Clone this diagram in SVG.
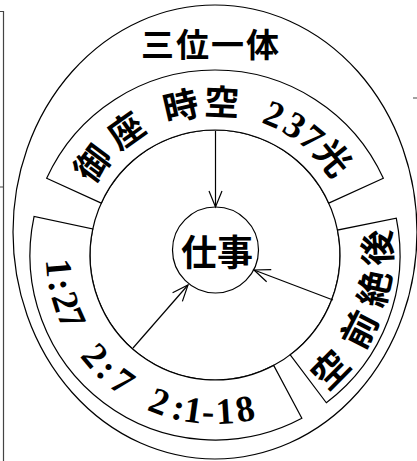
<svg xmlns="http://www.w3.org/2000/svg" width="417" height="461" viewBox="0 0 417 461">
<style>
.ln{fill:none;stroke:#000;stroke-width:1.2}
.sec{fill:#fff;stroke:#000;stroke-width:1.2}
.cjk{font-family:"Noto Sans CJK JP","Noto Sans CJK SC",sans-serif;font-weight:700;fill:#000}
.num{font-family:"Liberation Serif",serif;font-weight:700;fill:#000}
.edge{stroke:#444;stroke-width:1.2;fill:none}
</style>
<defs>
<marker id="ah" viewBox="-18 -9 20 18" refX="0" refY="0" markerWidth="20" markerHeight="18" markerUnits="userSpaceOnUse" orient="auto">
<path d="M-16,-6.5 L0,0 L-16,6.5" fill="none" stroke="#000" stroke-width="1.2"/>
</marker>
</defs>
<rect width="417" height="461" fill="#fff"/>
<g id="frame">
<path class="edge" d="M3.5,11 V461 M0,11.5 H3.5 M0,187 H3.5 M413,98 H417"/>
</g>
<g id="trinity">
<ellipse class="ln" cx="215" cy="232" rx="202" ry="227"/>
<text class="cjk" x="141" y="57" font-size="33" letter-spacing="2">三位一体</text>
</g>
<g id="inner-ring">
<circle class="ln" cx="215" cy="255" r="125"/>
</g>
<g id="sector-top">
<path class="sec" d="M46.65,178.28 A185,185 0 0 1 383.35,178.28 L328.75,203.16 A125,125 0 0 0 101.25,203.16 Z"/>
<g font-size="35">
<text class="cjk" x="215" y="115" text-anchor="middle" transform="rotate(-53.1 215 255)">御</text>
<text class="cjk" x="215" y="115" text-anchor="middle" transform="rotate(-35.6 215 255)">座</text>
<text class="cjk" x="215" y="115" text-anchor="middle" transform="rotate(-13 215 255)">時</text>
<text class="cjk" x="215" y="115" text-anchor="middle" transform="rotate(2.6 215 255)">空</text>
<text class="num" x="215" y="115" text-anchor="middle" font-size="37" transform="rotate(22.8 215 255)">2</text>
<text class="num" x="215" y="115" text-anchor="middle" font-size="37" transform="rotate(31.6 215 255)">3</text>
<text class="num" x="215" y="115" text-anchor="middle" font-size="37" transform="rotate(39.6 215 255)">7</text>
<text class="cjk" x="215" y="115" text-anchor="middle" transform="rotate(50.6 215 255)">光</text>
</g>
</g>
<g id="sector-left">
<path class="sec" d="M34.04,216.53 A185,185 0 0 0 301.86,418.34 L273.69,365.36 A125,125 0 0 1 92.74,229.01 Z"/>
<g font-size="37">
<text class="num" x="215" y="424" text-anchor="middle" transform="rotate(85.3 215 255)">1</text>
<text class="num" x="215" y="424" text-anchor="middle" transform="rotate(79 215 255)">:</text>
<text class="num" x="215" y="424" text-anchor="middle" transform="rotate(72.7 215 255)">2</text>
<text class="num" x="215" y="424" text-anchor="middle" transform="rotate(66.2 215 255)">7</text>
<text class="num" x="215" y="424" text-anchor="middle" transform="rotate(50.1 215 255)">2</text>
<text class="num" x="215" y="424" text-anchor="middle" transform="rotate(43.5 215 255)">:</text>
<text class="num" x="215" y="424" text-anchor="middle" transform="rotate(36.2 215 255)">7</text>
<text class="num" x="215" y="424" text-anchor="middle" transform="rotate(20.8 215 255)">2</text>
<text class="num" x="215" y="424" text-anchor="middle" transform="rotate(13.4 215 255)">:</text>
<text class="num" x="215" y="424" text-anchor="middle" transform="rotate(8 215 255)">1</text>
<text class="num" x="215" y="424" text-anchor="middle" transform="rotate(2.5 215 255)">-</text>
<text class="num" x="215" y="424" text-anchor="middle" transform="rotate(-3.6 215 255)">1</text>
<text class="num" x="215" y="424" text-anchor="middle" transform="rotate(-11 215 255)">8</text>
</g>
</g>
<g id="sector-right">
<path class="sec" d="M326.33,402.74 A185,185 0 0 0 396.28,218.11 L337.49,230.08 A125,125 0 0 1 290.23,354.83 Z"/>
<g font-size="36">
<text class="cjk" x="215" y="431" text-anchor="middle" transform="rotate(-45.2 215 255)">空</text>
<text class="cjk" x="215" y="431" text-anchor="middle" transform="rotate(-62.8 215 255)">前</text>
<text class="cjk" x="215" y="431" text-anchor="middle" transform="rotate(-78.1 215 255)">絶</text>
<text class="cjk" x="215" y="431" text-anchor="middle" transform="rotate(-92.5 215 255)">後</text>
</g>
</g>
<g id="work">
<circle class="ln" cx="215.5" cy="250" r="43"/>
<text class="cjk" x="217" y="266" font-size="36" text-anchor="middle">仕事</text>
</g>
<g id="connectors">
<line class="ln" x1="215.5" y1="131" x2="215.5" y2="207" marker-end="url(#ah)"/>
<line class="ln" x1="133" y1="348" x2="188" y2="285" marker-end="url(#ah)"/>
<line class="ln" x1="333" y1="300" x2="254" y2="270" marker-end="url(#ah)"/>
</g>
</svg>
